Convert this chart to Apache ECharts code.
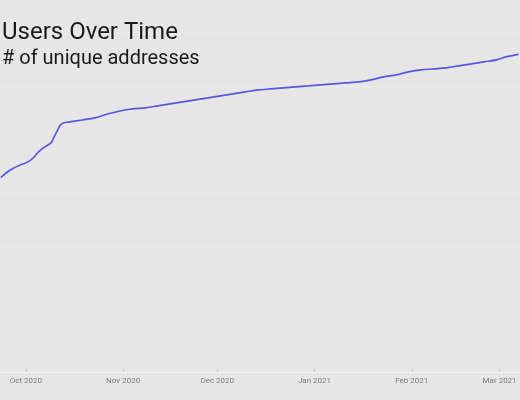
<!DOCTYPE html>
<html><head><meta charset="utf-8">
<script src="https://cdn.jsdelivr.net/npm/echarts@6/dist/echarts.min.js"></script>
<style>html,body{margin:0;padding:0;background:#e6e6e6}#c{width:520px;height:400px}</style>
</head><body><div id="c"></div>
<script>
const dates = ['2020-09-23','2020-09-25','2020-09-27','2020-09-29','2020-10-01','2020-10-03','2020-10-05','2020-10-07','2020-10-09','2020-10-10','2020-10-11','2020-10-12','2020-10-13','2020-10-15','2020-10-19','2020-10-23','2020-10-27','2020-10-31','2020-11-04','2020-11-08','2020-11-12','2020-11-16','2020-11-20','2020-11-24','2020-11-28','2020-12-02','2020-12-06','2020-12-10','2020-12-14','2020-12-18','2020-12-22','2020-12-26','2020-12-30','2021-01-03','2021-01-07','2021-01-11','2021-01-15','2021-01-19','2021-01-23','2021-01-27','2021-01-31','2021-02-04','2021-02-08','2021-02-12','2021-02-16','2021-02-20','2021-02-24','2021-02-28','2021-03-03','2021-03-07'];
const users = [3290,3390,3465,3520,3565,3640,3771,3865,3940,4053,4165,4278,4315,4334,4371,4409,4484,4540,4578,4597,4634,4672,4709,4747,4784,4822,4859,4897,4934,4953,4972,4991,5009,5028,5047,5066,5084,5122,5178,5216,5272,5310,5328,5347,5385,5422,5460,5497,5553,5600];
const tickDates = ['2020-10-01','2020-11-01','2020-12-01','2021-01-01','2021-02-01','2021-03-01'];
const tickLabels = ['Oct 2020','Nov 2020','Dec 2020','Jan 2021','Feb 2021','Mar 2021'];
const titleText = 'Users Over Time';
const subtitleText = '# of unique addresses';

const toMs = d => +new Date(d + 'T00:00:00Z');
const tickTimes = tickDates.map(toMs);
const labelMap = {};
tickTimes.forEach((t, i) => labelMap[t] = tickLabels[i]);

const chart = echarts.init(document.getElementById('c'), null, {renderer: 'canvas'});
chart.setOption({
  backgroundColor: '#e6e6e6',
  animation: false,
  title: [
    {text: titleText, left: -3, top: 16, textStyle: {fontFamily: 'Roboto', fontSize: 24, fontWeight: 'normal', color: '#1a1a1a'}},
    {text: subtitleText, left: -3, top: 44, textStyle: {fontFamily: 'Roboto', fontSize: 20, fontWeight: 'normal', color: '#1a1a1a'}}
  ],
  grid: {left: 0, right: 0, top: 0, bottom: 47},
  xAxis: {
    type: 'value',
    min: +new Date('2020-09-22T18:00:00Z'),
    max: +new Date('2021-03-07T12:00:00Z'),
    offset: 19,
    axisLine: {show: true, onZero: false, lineStyle: {color: '#efefef', width: 1}},
    axisTick: {show: true, customValues: tickTimes, length: 3, inside: true, lineStyle: {color: '#c8c8c8'}},
    axisLabel: {customValues: tickTimes, formatter: v => labelMap[v] || '', fontFamily: 'Roboto', fontSize: 8, color: '#7a7a7a', margin: 5},
    splitLine: {show: false}
  },
  yAxis: {
    type: 'value', min: 0, max: 6620, interval: 1000,
    axisLine: {show: false}, axisTick: {show: false}, axisLabel: {show: false},
    splitLine: {show: true, showMinLine: false, showMaxLine: false, lineStyle: {color: '#ebebeb', width: 1}}
  },
  series: [{
    type: 'line',
    data: dates.map((d, i) => [toMs(d), users[i]]),
    showSymbol: false, smooth: 0.3,
    lineStyle: {color: '#5656dc', width: 1.6},
    itemStyle: {color: '#5656dc'}
  }]
});
</script></body></html>
